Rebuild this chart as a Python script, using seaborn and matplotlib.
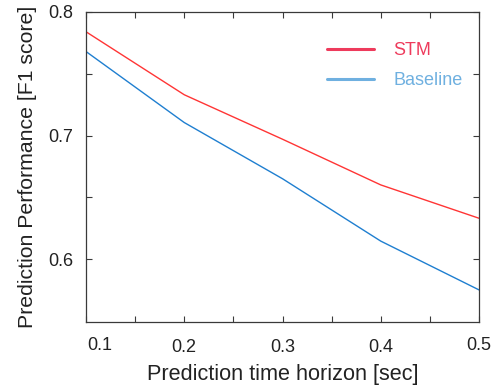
import matplotlib
matplotlib.use("Agg")
import matplotlib.pyplot as plt
import matplotlib.transforms as mtransforms
from matplotlib.lines import Line2D
import seaborn as sns
import pandas as pd
import numpy as np

horizon = [0.1, 0.2, 0.3, 0.4, 0.5]
stm = [0.784, 0.733, 0.697, 0.660, 0.633]
baseline = [0.768, 0.7105, 0.665, 0.6145, 0.575]
series_names = ["STM", "Baseline"]
line_colors = ["#ff3535", "#1f7fd0"]
legend_colors = ["#ee3b5c", "#6fb0e0"]
x_ticks = [0.1, 0.15, 0.2, 0.25, 0.3, 0.35, 0.4, 0.45, 0.5]
x_ticklabels = ["0.1", "", "0.2", "", "0.3", "", "0.4", "", "0.5"]
y_ticks = [0.6, 0.65, 0.7, 0.75, 0.8]
y_ticklabels = ["0.6", "", "0.7", "", "0.8"]

df = pd.DataFrame({
    "horizon": horizon * 2,
    "score": stm + baseline,
    "series": ["STM"] * len(horizon) + ["Baseline"] * len(horizon),
})

sns.set_style("white")
plt.rcParams["font.family"] = ["Liberation Sans", "DejaVu Sans"]

fig = plt.figure(figsize=(4.97, 3.87), dpi=100)
ax = fig.add_axes([86 / 497, 1 - 322 / 387, (479 - 86) / 497, (322 - 12) / 387])

sns.lineplot(data=df, x="horizon", y="score", hue="series",
             palette=dict(zip(series_names, line_colors)),
             hue_order=series_names, linewidth=1.0, ax=ax, legend=False)

ax.set_xlim(0.1, 0.5)
ax.set_ylim(0.549, 0.8)
ax.set_xticks(x_ticks)
ax.set_xticklabels(x_ticklabels)
ax.set_yticks(y_ticks)
ax.set_yticklabels(y_ticklabels)

for s in ax.spines.values():
    s.set_color("#3a3a3a")
    s.set_linewidth(0.9)
    s.set_visible(True)

ax.tick_params(direction="in", length=4, width=0.8, color="#3a3a3a",
               top=True, right=True, labelsize=13, labelcolor="#222222",
               bottom=True, left=True)
ax.tick_params(axis="x", pad=12)
ax.tick_params(axis="y", pad=9)

# nudge the first x label right (as in reference) and raise end labels slightly
xl = ax.get_xticklabels()
xl[0].set_transform(xl[0].get_transform() + mtransforms.ScaledTranslation(14 / 100, 2 / 100, fig.dpi_scale_trans))
xl[-1].set_transform(xl[-1].get_transform() + mtransforms.ScaledTranslation(0, 2 / 100, fig.dpi_scale_trans))

ax.set_xlabel("Prediction time horizon [sec]", fontsize=15.6, color="#222222", labelpad=6)
ax.set_ylabel("Prediction Performance [F1 score]", fontsize=15.3, color="#222222", labelpad=8)

handles = [Line2D([0], [0], color=c, lw=2.2) for c in legend_colors]
leg = ax.legend(handles, series_names, loc="upper right", frameon=False,
                fontsize=13, handlelength=2.6, handletextpad=1.1,
                labelspacing=0.7, bbox_to_anchor=(1.0, 0.955),
                labelcolor=legend_colors)

fig.savefig("out.png", dpi=100)
